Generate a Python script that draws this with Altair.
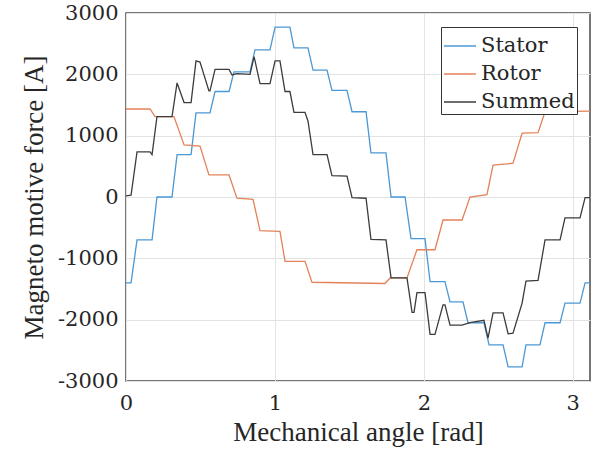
import altair as alt
import pandas as pd

# Mechanical angle breakpoints [rad] and MMF values [A] for each trace
stator_x = [0.000, 0.034, 0.074, 0.175, 0.208, 0.309, 0.343, 0.437, 0.470, 0.564,
            0.598, 0.692, 0.725, 0.833, 0.866, 0.967, 1.001, 1.101, 1.128, 1.222,
            1.256, 1.350, 1.383, 1.484, 1.518, 1.612, 1.645, 1.746, 1.780, 1.874,
            1.914, 2.008, 2.042, 2.142, 2.176, 2.263, 2.297, 2.404, 2.438, 2.532,
            2.566, 2.660, 2.686, 2.780, 2.814, 2.915, 2.948, 3.049, 3.083, 3.116]
stator_y = [-1400, -1400, -700, -700, 0, 0, 690, 690, 1370, 1370,
            1720, 1720, 2040, 2040, 2400, 2400, 2770, 2770, 2430, 2430,
            2070, 2070, 1740, 1740, 1390, 1390, 720, 720, 0, 0,
            -680, -680, -1380, -1380, -1710, -1710, -2050, -2050, -2410, -2410,
            -2770, -2770, -2410, -2410, -2050, -2050, -1730, -1730, -1400, -1400]

rotor_x = [0.000, 0.161, 0.195, 0.322, 0.390, 0.497, 0.557, 0.692, 0.745, 0.853,
           0.900, 1.034, 1.068, 1.202, 1.249, 1.739, 1.773, 1.887, 1.954, 2.075,
           2.129, 2.257, 2.310, 2.424, 2.465, 2.599, 2.660, 2.767, 2.814, 3.116]
rotor_y = [1435, 1435, 1310, 1310, 850, 830, 360, 360, -20, -40,
           -550, -560, -1050, -1050, -1390, -1410, -1320, -1320, -860, -860,
           -375, -375, 0, 40, 520, 550, 1040, 1050, 1390, 1400]

summed_x = [0.000, 0.034, 0.074, 0.161, 0.175, 0.208, 0.309, 0.343, 0.390, 0.437,
            0.470, 0.497, 0.557, 0.564, 0.598, 0.692, 0.712, 0.745, 0.833, 0.860,
            0.900, 0.967, 1.001, 1.034, 1.068, 1.101, 1.128, 1.202, 1.222, 1.256,
            1.350, 1.383, 1.484, 1.518, 1.612, 1.645, 1.746, 1.780, 1.887, 1.921,
            1.934, 1.954, 2.008, 2.042, 2.075, 2.129, 2.142, 2.176, 2.257, 2.310,
            2.404, 2.431, 2.465, 2.532, 2.566, 2.599, 2.660, 2.686, 2.767, 2.814,
            2.915, 2.948, 3.049, 3.083, 3.116]
summed_y = [20, 30, 735, 735, 690, 1310, 1310, 1860, 1540, 1540,
            2220, 2200, 1730, 1730, 2080, 2080, 1990, 2010, 2000, 2290,
            1850, 1850, 2220, 2220, 1720, 1720, 1380, 1380, 1240, 690,
            690, 350, 340, -10, -20, -690, -700, -1320, -1320, -1880,
            -1880, -1560, -1560, -2240, -2240, -1760, -1760, -2090, -2090, -2050,
            -2010, -2300, -1890, -1890, -2230, -2220, -1730, -1370, -1360, -700,
            -700, -340, -340, -10, -10]

series_names = ["Stator", "Rotor", "Summed"]
series_colors = ["#4a98d6", "#e3825a", "#3c3c3c"]

frames = []
for name, xs, ys in [("Stator", stator_x, stator_y),
                     ("Rotor", rotor_x, rotor_y),
                     ("Summed", summed_x, summed_y)]:
    frames.append(pd.DataFrame({"angle": xs, "mmf": ys, "series": name,
                                "idx": range(len(xs))}))
data = pd.concat(frames, ignore_index=True)

FONT = "Liberation Serif"
LABEL_FONT = "DejaVu Serif"
TXT = "#262626"

chart = alt.Chart(data).mark_line(strokeWidth=1.3, interpolate="linear").encode(
    x=alt.X("angle:Q",
            scale=alt.Scale(domain=[0, 3.116], nice=False, zero=False),
            axis=alt.Axis(values=[0, 1, 2, 3], format="d", ticks=False, domain=False,
                          labelFlush=False, labelOverlap=False,
                          labelPadding=11,
                          title="Mechanical angle [rad]", titlePadding=6)),
    y=alt.Y("mmf:Q",
            scale=alt.Scale(domain=[-3000, 3000], nice=False),
            axis=alt.Axis(values=[-3000, -2000, -1000, 0, 1000, 2000, 3000],
                          labelExpr="datum.value < 0 ? '-' + format(-datum.value, 'd') : format(datum.value, 'd')",
                          ticks=False, domain=False, labelFlush=False,
                          labelOverlap=False, labelPadding=8,
                          title="Magneto motive force [A]",
                          titleX=-92, titleY=184,
                          titleBaseline="middle", titleAngle=-90)),
    color=alt.Color("series:N",
                    scale=alt.Scale(domain=series_names, range=series_colors),
                    legend=alt.Legend(title=None, orient="none",
                                      legendX=315, legendY=14,
                                      symbolType="stroke", symbolSize=1024,
                                      symbolStrokeWidth=1.5,
                                      labelOffset=4,
                                      rowPadding=1, padding=2,
                                      fillColor="white", strokeColor="#333333",
                                      cornerRadius=0)),
    order=alt.Order("idx:Q"),
).properties(
    width=464, height=368,
    autosize=alt.AutoSizeParams(type="none"),
    padding={"left": 126, "top": 13, "right": 8, "bottom": 70},
).configure(
    background="white", font=FONT,
).configure_axis(
    labelFont=LABEL_FONT, labelFontSize=21, labelColor=TXT,
    titleFont=FONT, titleFontSize=27, titleFontWeight="normal", titleColor=TXT,
    grid=True, gridColor="#e3e3e3", gridWidth=1
).configure_legend(
    labelFont=LABEL_FONT, labelFontSize=21, labelColor=TXT
).configure_view(
    stroke="#4a4a4a", strokeWidth=1.5
)

chart.save("out.html", embed_options={"renderer": "svg", "actions": False})
